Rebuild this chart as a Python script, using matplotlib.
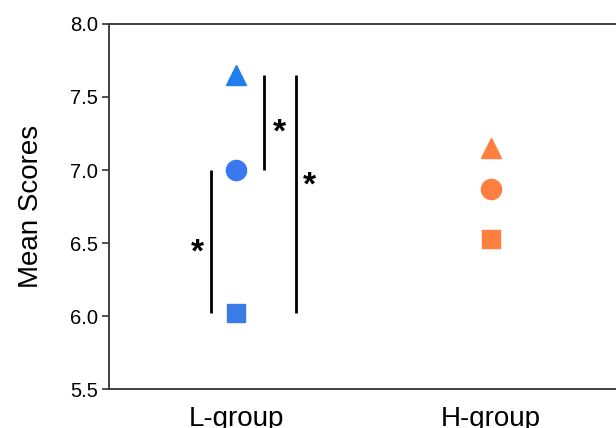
import matplotlib
matplotlib.use("Agg")
import matplotlib.pyplot as plt

plt.rcParams['font.family'] = ['Liberation Sans', 'DejaVu Sans']

# 数据
groups = ['L-group', 'H-group']
tri_scores = [7.65, 7.15]
circle_scores = [7.0, 6.87]
square_scores = [6.02, 6.53]

# 显著性标记：(线的 x, 起点, 终点, 星号 x, 星号 y)
sig_marks = [
    (0.90, square_scores[0], circle_scores[0], 0.846, 6.47),
    (1.11, circle_scores[0], tri_scores[0], 1.17, 7.29),
    (1.236, square_scores[0], tri_scores[0], 1.287, 6.93),
]

colors_l = {'tri': '#1f7ff0', 'circle': '#3a78f0', 'square': '#3b7be8'}
color_h = '#ff7f3f'

fig = plt.figure(figsize=(6.16, 4.28), dpi=100)
ax = fig.add_axes([0.177, 0.091, 0.826, 0.853])

x = [1, 2]
ax.plot(x[0], tri_scores[0], marker='^', ms=14.5, color=colors_l['tri'], ls='none')
ax.plot(x[0], circle_scores[0], marker='o', ms=14.5, color=colors_l['circle'], ls='none')
ax.plot(x[0], square_scores[0], marker='s', ms=13, color=colors_l['square'], ls='none')
ax.plot(x[1], tri_scores[1], marker='^', ms=14.5, color=color_h, ls='none')
ax.plot(x[1], circle_scores[1], marker='o', ms=14.5, color=color_h, ls='none')
ax.plot(x[1], square_scores[1], marker='s', ms=13, color=color_h, ls='none')

# 显著性标记线和星号
for lx, y0, y1, sx, sy in sig_marks:
    ax.plot([lx, lx], [y0, y1], color='black', lw=2.0, solid_capstyle='butt')
    ax.text(sx, sy - 0.04, '*', fontsize=24, fontweight='bold', ha='center', va='center')

ax.set_xlim(0.5, 2.5)
ax.set_ylim(5.5, 8.0)
ax.set_yticks([5.5, 6.0, 6.5, 7.0, 7.5, 8.0])
ax.set_yticklabels(['5.5', '6.0', '6.5', '7.0', '7.5', '8.0'])
ax.set_xticks(x)
ax.set_xticklabels(groups, fontsize=20)
ax.tick_params(axis='x', length=0, pad=12)
ax.tick_params(axis='y', labelsize=14.5, length=5, width=1.2, color='#333333', pad=3)
ax.set_ylabel('Mean Scores', fontsize=20, labelpad=19)

for spine in ['top', 'left', 'bottom']:
    ax.spines[spine].set_linewidth(1.3)
    ax.spines[spine].set_color('#333333')
ax.spines['right'].set_visible(False)

fig.savefig('out.png', dpi=100)
